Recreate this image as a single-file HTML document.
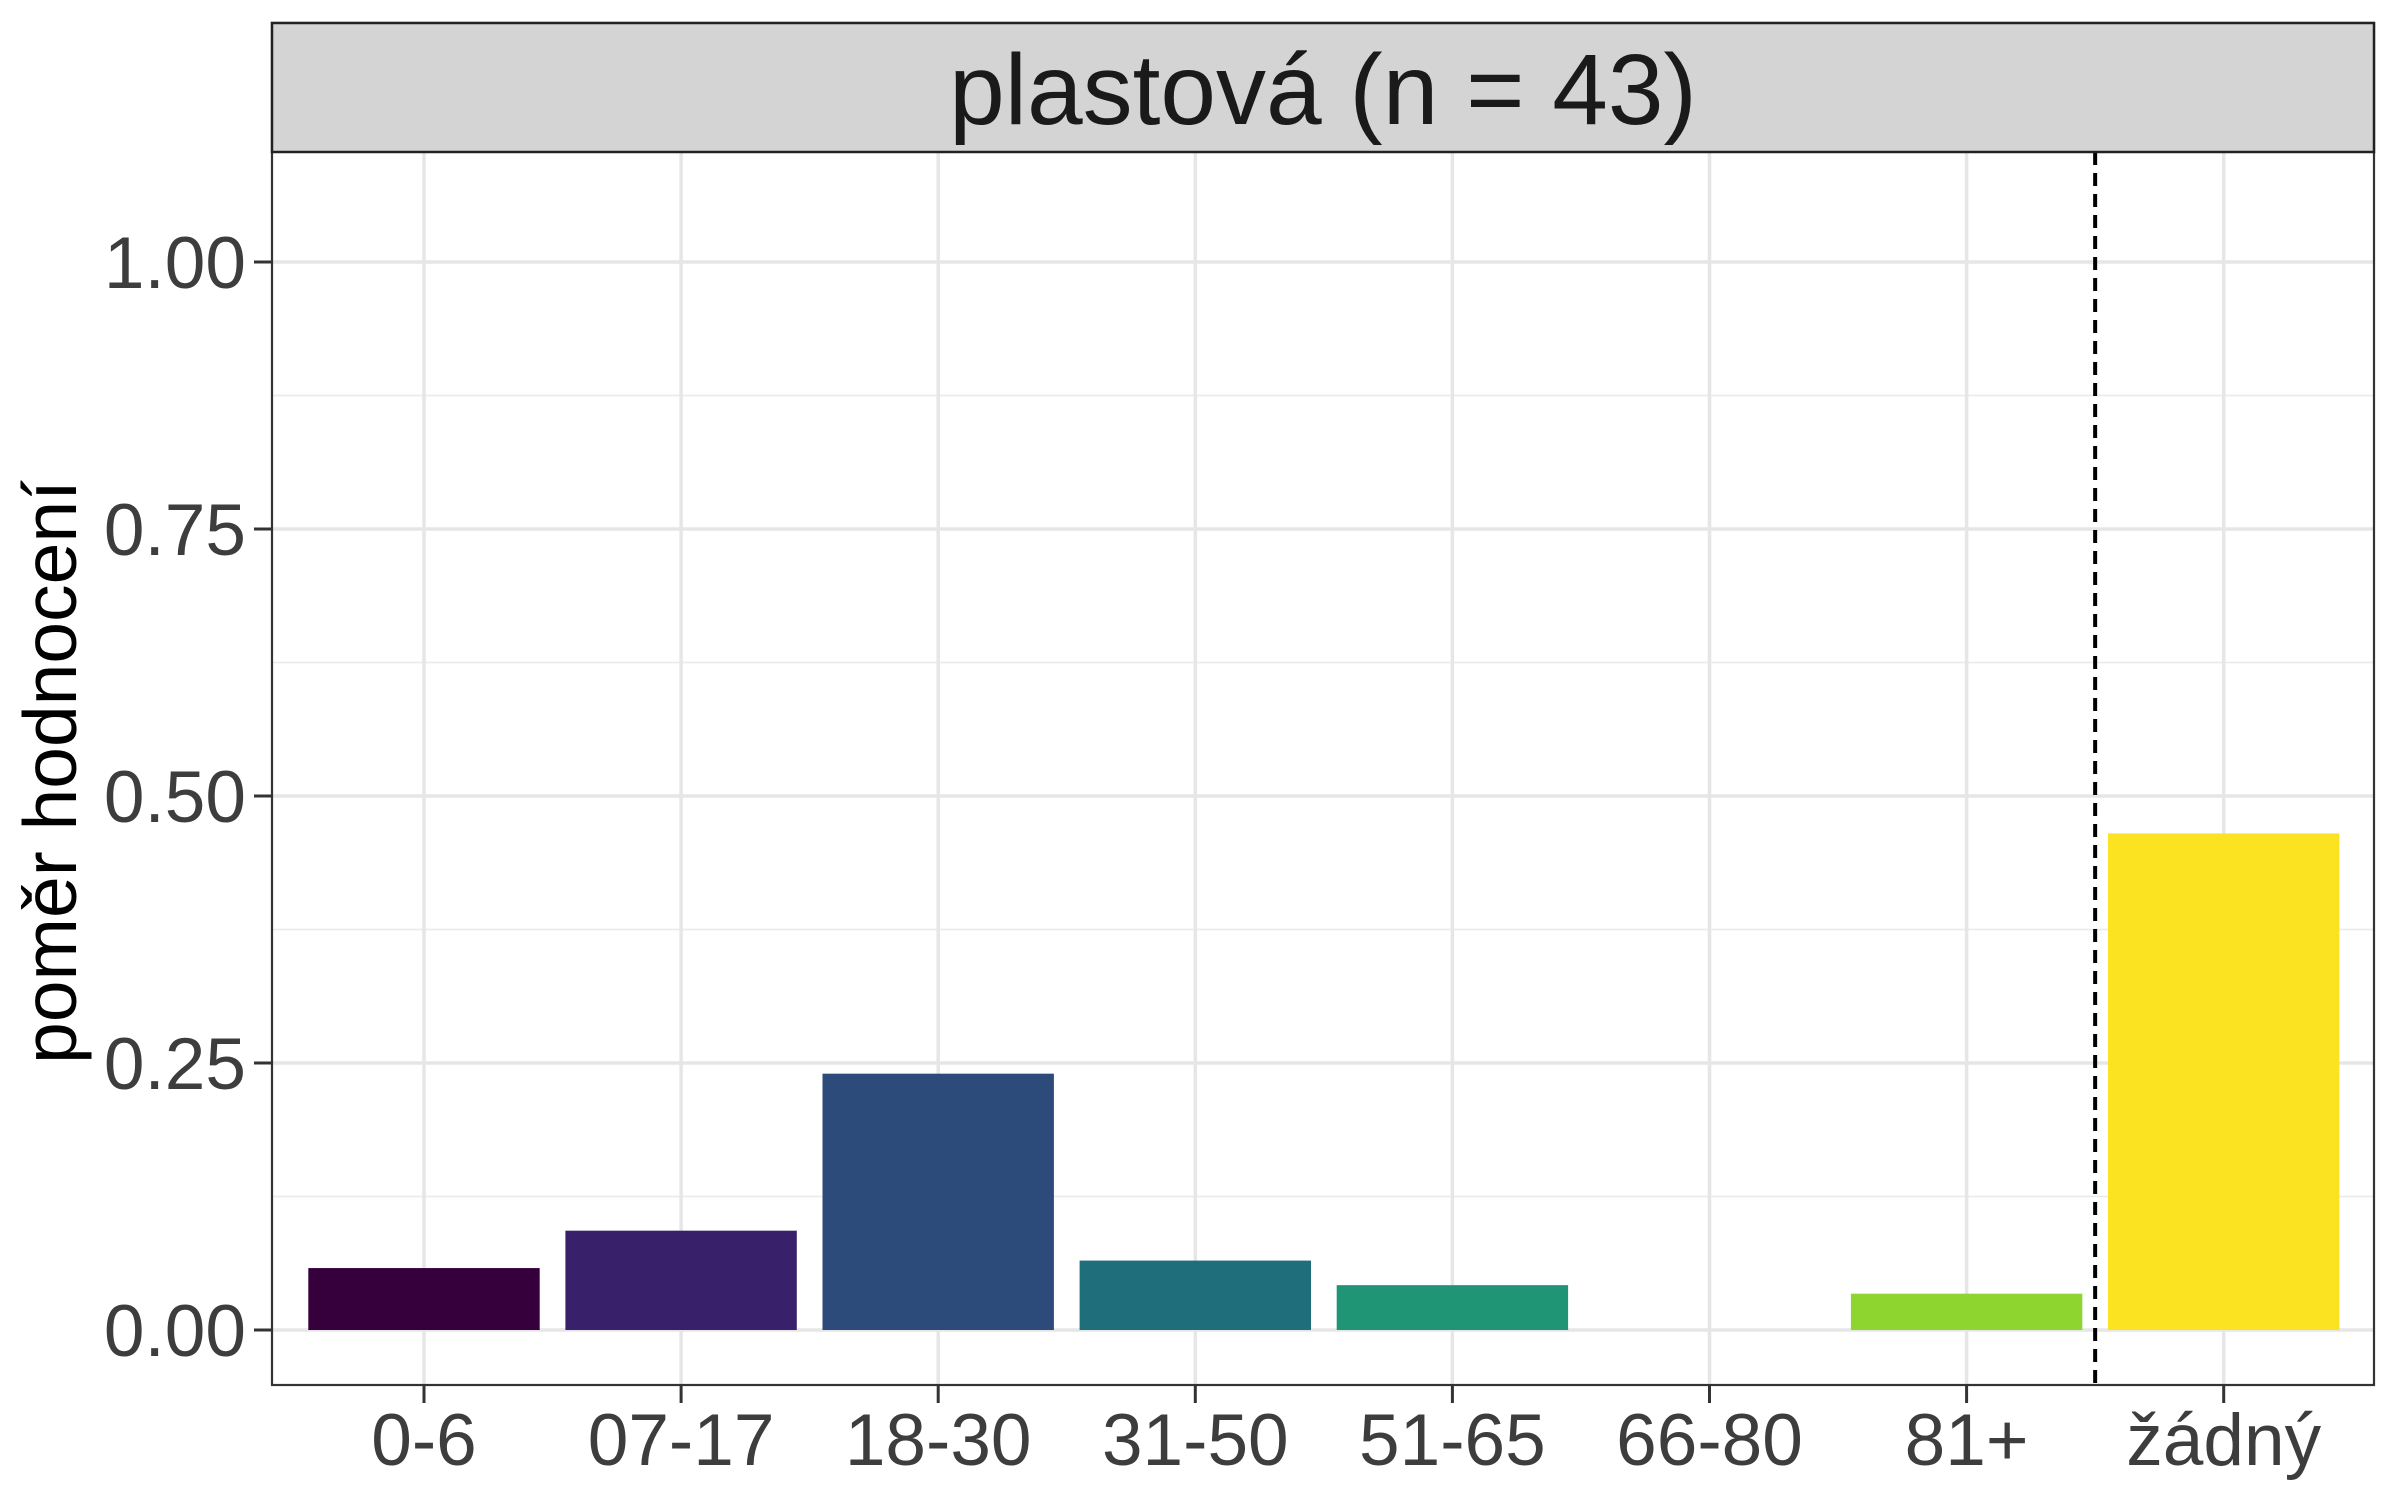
<!DOCTYPE html>
<html><head><meta charset="utf-8"><style>
html,body{margin:0;padding:0;background:#fff;}
svg{display:block;font-family:"Liberation Sans",Arial,sans-serif;}
</style></head><body>
<svg id="chart" width="2400" height="1500" viewBox="0 0 2400 1500"></svg>
<script>
const categories = ["0-6","07-17","18-30","31-50","51-65","66-80","81+","žádný"];
const values = [0.058, 0.093, 0.240, 0.065, 0.042, 0, 0.034, 0.465];
const colors = ["#36003C","#38206A","#2C4A7A","#1F6E7C","#209576","#3DB05E","#8ED52F","#FBE322"];
const yTicks = [0, 0.25, 0.5, 0.75, 1.0];
const yTickLabels = ["0.00","0.25","0.50","0.75","1.00"];
const NS = "http://www.w3.org/2000/svg";
const svg = document.getElementById('chart');
const L = 272, R = 2374, T = 23, B = 1385, stripB = 152;
const y0 = 1330, y1 = 262;
const y = v => y0 - v * (y0 - y1);
const step = 257.1, x0 = 424;
const x = i => x0 + i * step;
function mk(tag, attrs, parent) {
  const e = document.createElementNS(NS, tag);
  for (const k in attrs) e.setAttribute(k, attrs[k]);
  (parent || svg).appendChild(e);
  return e;
}
const bg = mk('rect', {x:L, y:stripB, width:R-L, height:B-stripB, fill:'#fff'});


for (let i = 0; i < yTicks.length - 1; i++) {
  const v = (yTicks[i] + yTicks[i+1]) / 2;
  const g = mk('line', {x1:L, x2:R, y1:y(v), y2:y(v), stroke:'#ebebeb', 'stroke-width':1.8});
  
  
}
yTicks.forEach(v => {
  const g = mk('line', {x1:L, x2:R, y1:y(v), y2:y(v), stroke:'#e6e6e6', 'stroke-width':3.5});
  
  
});
categories.forEach((c, i) => {
  const g = mk('line', {x1:x(i), x2:x(i), y1:stripB, y2:B, stroke:'#e6e6e6', 'stroke-width':3.5});
  
  
});
const bw = 0.9 * step;
values.forEach((v, i) => {
  const r = mk('rect', {x:x(i) - bw/2, y:y(v), width:bw, height:y0 - y(v), fill:colors[i]});
  
  
});
const d = mk('line', {x1:x(6.5), x2:x(6.5), y1:stripB, y2:B, stroke:'#000', 'stroke-width':4, 'stroke-dasharray':'13,8'});


const pb = mk('rect', {x:L, y:T, width:R-L, height:B-T, fill:'none', stroke:'#333', 'stroke-width':2.2});


const st = mk('rect', {x:L, y:T, width:R-L, height:stripB-T, fill:'#d4d4d4', stroke:'#222', 'stroke-width':2.5});


const stl = mk('text', {x:(L+R)/2, y:124, 'text-anchor':'middle', 'font-size':100, fill:'#1a1a1a'});
stl.textContent = 'plastová (n = 43)';


yTicks.forEach((v, i) => {
  const t = mk('line', {x1:L-18, x2:L, y1:y(v), y2:y(v), stroke:'#333', 'stroke-width':3});
  
  
  const l = mk('text', {x:L-26, y:y(v)+26, 'text-anchor':'end', 'font-size':73, fill:'#3d3d3d'});
  l.textContent = yTickLabels[i];
  
  
});
categories.forEach((c, i) => {
  const t = mk('line', {x1:x(i), x2:x(i), y1:B, y2:B+18, stroke:'#333', 'stroke-width':3});
  
  
  const l = mk('text', {x:x(i), y:1465, 'text-anchor':'middle', 'font-size':73, fill:'#3d3d3d'});
  l.textContent = c;
  
  
});
const yt = mk('text', {x:0, y:0, 'text-anchor':'middle', 'font-size':75, fill:'#000', transform:'translate(76,772) rotate(-90)'});
yt.textContent = 'poměr hodnocení';


</script>
</body></html>
